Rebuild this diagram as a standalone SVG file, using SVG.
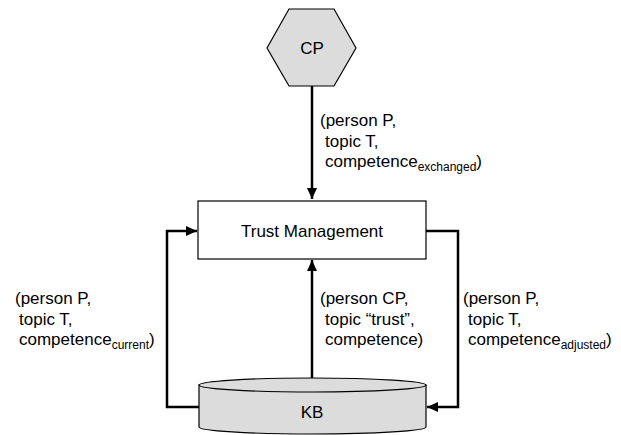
<svg xmlns="http://www.w3.org/2000/svg" width="621" height="435" viewBox="0 0 621 435">
<defs>
<marker id="arr" markerUnits="userSpaceOnUse" markerWidth="12" markerHeight="10" refX="11" refY="5" orient="auto">
<path d="M0,0 L11,5 L0,10 z" fill="#000"/>
</marker>
<style>
text{font-family:"Liberation Sans",Arial,sans-serif;font-size:17px;fill:#000}
.sub{font-size:12px}
.conn{fill:none;stroke:#000;stroke-width:2.5}
.shape{fill:#dcdcdc;stroke:#000;stroke-width:1.2}
</style>
</defs>
<rect width="621" height="435" fill="#fff"/>
<g id="connectors">
<path class="conn" d="M312,86 L312,199" marker-end="url(#arr)"/>
<path class="conn" d="M199,407 L167,407 L167,231 L197,231" marker-end="url(#arr)"/>
<path class="conn" d="M426,231 L458,231 L458,407 L427,407" marker-end="url(#arr)"/>
<path class="conn" d="M312,378 L312,260" marker-end="url(#arr)"/>
</g>
<g id="CP">
<polygon class="shape" points="289,9 334,9 356,48 334,86 289,86 267,48"/>
<text x="312" y="54" text-anchor="middle">CP</text>
</g>
<g id="TrustManagement">
<rect x="198" y="201" width="228" height="58" fill="#fff" stroke="#000" stroke-width="1.2"/>
<text x="312" y="237" text-anchor="middle">Trust Management</text>
</g>
<g id="KB">
<path class="shape" d="M199,385 L199,427 A113.5,7 0 0 0 426,427 L426,385 Z"/>
<ellipse class="shape" cx="312.5" cy="385" rx="113.5" ry="7"/>
<text x="312" y="418" text-anchor="middle">KB</text>
</g>
<g id="labels">
<text x="320" y="126">(person P,</text>
<text x="325" y="146.5">topic T,</text>
<text x="325" y="167">competence<tspan class="sub" dy="4">exchanged</tspan><tspan dy="-4">)</tspan></text>
<text x="15" y="304">(person P,</text>
<text x="19" y="324.5">topic T,</text>
<text x="19" y="345">competence<tspan class="sub" dy="4">current</tspan><tspan dy="-4">)</tspan></text>
<text x="320" y="304">(person CP,</text>
<text x="325" y="324.5">topic “trust”,</text>
<text x="325" y="345">competence)</text>
<text x="463" y="304">(person P,</text>
<text x="468" y="324.5">topic T,</text>
<text x="468" y="345">competence<tspan class="sub" dy="4">adjusted</tspan><tspan dy="-4">)</tspan></text>
</g>
</svg>
